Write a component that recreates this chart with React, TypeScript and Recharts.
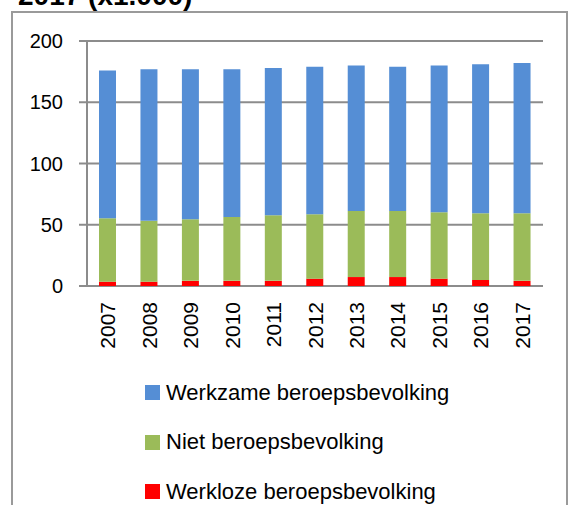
import React from 'react';
import { BarChart, Bar, XAxis, YAxis, CartesianGrid, Legend } from 'recharts';

const years = ['2007', '2008', '2009', '2010', '2011', '2012', '2013', '2014', '2015', '2016', '2017'];
const werkloze = [3.5, 3.5, 4.2, 4.2, 4.2, 6, 7.3, 7.3, 6, 5, 4.2];
const niet = [51.8, 49.8, 50.2, 52.1, 53.5, 52.5, 53.9, 53.9, 54.2, 54.3, 55.1];
const werkzame = [120.7, 123.7, 122.6, 120.7, 120.3, 120.5, 118.8, 117.8, 119.8, 121.7, 122.7];
const yTicks = [0, 50, 100, 150, 200];
const boundaryTicks = [0, 1, 2, 3, 4, 5, 6, 7, 8, 9, 10, 11];

const series = [
  { key: 'werkloze', name: 'Werkloze beroepsbevolking', color: '#FF0000' },
  { key: 'niet', name: 'Niet beroepsbevolking', color: '#9BBB59' },
  { key: 'werkzame', name: 'Werkzame beroepsbevolking', color: '#558ED5' },
];

const data = years.map((y, i) => ({
  year: y,
  werkloze: werkloze[i],
  niet: niet[i],
  werkzame: werkzame[i],
}));

const FONT = '"Liberation Sans", Arial, sans-serif';
const GRID = '#8c8c8c';

const XTick = (props: any) => {
  const { x, y, payload } = props;
  return (
    <text
      x={x}
      y={y}
      transform={`rotate(-90, ${x}, ${y})`}
      textAnchor="end"
      dominantBaseline="central"
      fontFamily={FONT}
      fontSize={21}
      fill="#000"
    >
      {payload.value}
    </text>
  );
};

const LegendContent = () => {
  const items = [...series].reverse();
  return (
    <div style={{ fontFamily: FONT, fontSize: 22, color: '#000' }}>
      {items.map((s) => (
        <div
          key={s.key}
          style={{ height: 49.5, display: 'flex', alignItems: 'center', paddingLeft: 145 }}
        >
          <span style={{ display: 'inline-block', width: 15, height: 15, background: s.color, marginRight: 6 }} />
          <span>{s.name}</span>
        </div>
      ))}
    </div>
  );
};

export default function App() {
  return (
    <div style={{ position: 'absolute', left: 0, top: 0, width: 572, height: 505, overflow: 'hidden', background: '#fff' }}>
      <div
        style={{
          position: 'absolute',
          left: 11,
          top: 11,
          width: 557,
          height: 520,
          border: '2px solid #9a9a9a',
          boxSizing: 'border-box',
        }}
      />
      <svg width={572} height={30} style={{ position: 'absolute', left: 0, top: 0 }}>
        <text x={18} y={5} fontFamily={FONT} fontWeight="bold" fontSize={28} fill="#000">
          2017 (x1.000)
        </text>
      </svg>
      <div style={{ position: 'absolute', left: 0, top: 0 }}>
        <BarChart
          width={572}
          height={505}
          data={data}
          margin={{ top: 41, right: 29, left: 0, bottom: 139 }}
        >
          <CartesianGrid horizontal vertical={false} stroke={GRID} strokeWidth={2} xAxisId="cat" />
          <XAxis
            xAxisId="b"
            type="number"
            dataKey="idx"
            domain={[0, 11]}
            ticks={boundaryTicks}
            interval={0}
            allowDataOverflow
            height={0}
            tick={false}
            tickSize={8}
            stroke={GRID}
            strokeWidth={2}
            axisLine={{ stroke: GRID, strokeWidth: 2 }}
            tickLine={{ stroke: GRID, strokeWidth: 2 }}
          />
          <XAxis
            xAxisId="cat"
            dataKey="year"
            axisLine={false}
            tickLine={false}
            interval={0}
            tickSize={0}
            tickMargin={16}
            height={80}
            tick={<XTick />}
          />
          <YAxis
            domain={[0, 200]}
            ticks={yTicks}
            width={87}
            tickSize={8}
            tickMargin={16}
            axisLine={{ stroke: GRID, strokeWidth: 2 }}
            tickLine={{ stroke: GRID, strokeWidth: 2 }}
            tick={{ fontFamily: FONT, fontSize: 20, fill: '#000' }}
          />
          {series.map((s) => (
            <Bar
              key={s.key}
              dataKey={s.key}
              name={s.name}
              stackId="a"
              fill={s.color}
              xAxisId="cat"
              barSize={17}
              isAnimationActive={false}
            />
          ))}
          <Legend
            layout="vertical"
            align="center"
            verticalAlign="middle"
            wrapperStyle={{ left: 0, top: 368, width: 572 }}
            content={<LegendContent />}
          />
        </BarChart>
      </div>
    </div>
  );
}
